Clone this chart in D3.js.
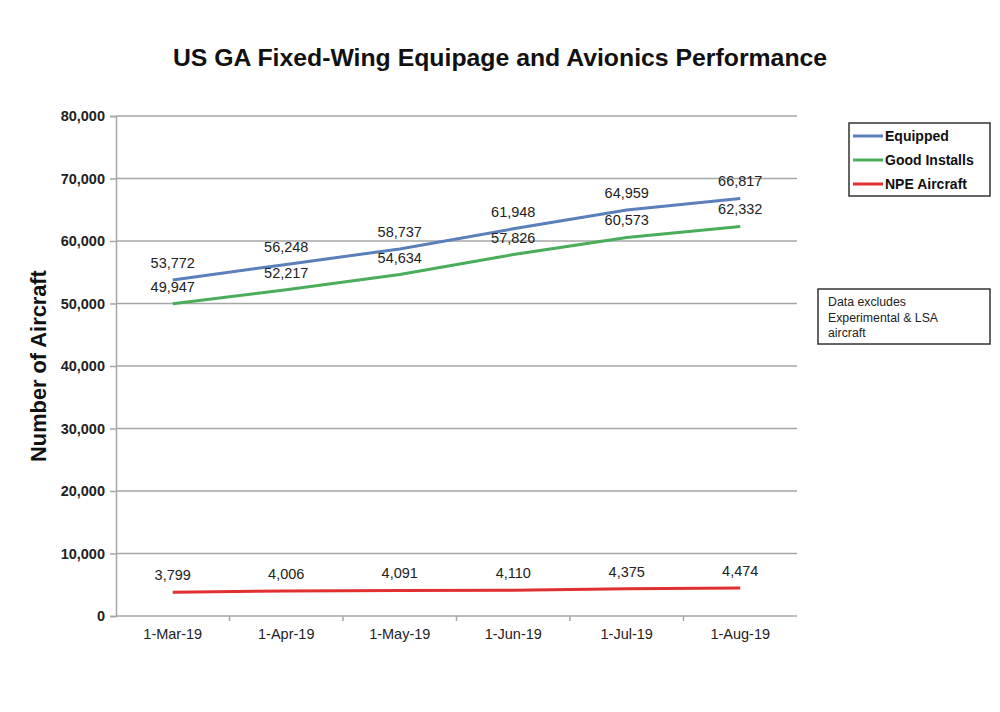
<!DOCTYPE html>
<html lang="en">
  <head>
    <meta charset="UTF-8" />
    <script src="https://d3js.org/d3.v7.min.js"></script>
    <title>US GA Fixed-Wing Equipage</title>
    <style>
      body { margin: 0; background: #fff; font-family: 'Liberation Sans', Arial, sans-serif; }
      .grid line { stroke: #a6a6a6; stroke-width: 1.5; }
      .axis path, .axis line { stroke: #a6a6a6; stroke-width: 1.5; }
      .axis text { fill: #222; font-size: 14.5px; }
      .y.axis text { font-weight: bold; }
      .lbl { fill: #222; font-size: 14.5px; text-anchor: middle; }
    </style>
  </head>
  <body>
    <script>
      const dates = ['1-Mar-19', '1-Apr-19', '1-May-19', '1-Jun-19', '1-Jul-19', '1-Aug-19']
      const equipped = [53772, 56248, 58737, 61948, 64959, 66817]
      const goodInstalls = [49947, 52217, 54634, 57826, 60573, 62332]
      const npeAircraft = [3799, 4006, 4091, 4110, 4375, 4474]
      const yTicks = [0, 10000, 20000, 30000, 40000, 50000, 60000, 70000, 80000]

      const series = [
        { name: 'Equipped', values: equipped, color: '#5a7fba' },
        { name: 'Good Installs', values: goodInstalls, color: '#4aad5b' },
        { name: 'NPE Aircraft', values: npeAircraft, color: '#e0302f' }
      ]

      const width = 1000
      const height = 712
      const plotLeft = 116, plotRight = 797, plotTop = 116, plotBottom = 616

      const svg = d3.select('body')
        .append('svg')
        .attr('width', width)
        .attr('height', height)

      const x = d3.scaleBand()
        .domain(dates)
        .range([plotLeft, plotRight])

      const y = d3.scaleLinear()
        .domain([0, 80000])
        .range([plotBottom, plotTop])

      // gridlines
      svg.append('g')
        .attr('class', 'grid')
        .selectAll('line')
        .data(yTicks.filter(d => d > 0))
        .join('line')
        .attr('x1', plotLeft)
        .attr('x2', plotRight)
        .attr('y1', d => y(d))
        .attr('y2', d => y(d))

      svg.append('g')
        .attr('class', 'y axis')
        .attr('transform', `translate(${plotLeft},0)`)
        .call(d3.axisLeft(y).tickValues(yTicks).tickSize(6).tickPadding(5).tickFormat(d3.format(',')))

      // bottom axis with ticks at category boundaries
      const xAxis = svg.append('g')
        .attr('class', 'x axis')
        .attr('transform', `translate(0,${plotBottom})`)
      xAxis.append('line')
        .attr('x1', plotLeft).attr('x2', plotRight)
      xAxis.selectAll('.bt')
        .data(dates.slice(1))
        .join('line')
        .attr('class', 'bt')
        .attr('x1', d => x(d)).attr('x2', d => x(d))
        .attr('y1', 0).attr('y2', 5)
      xAxis.selectAll('text')
        .data(dates)
        .join('text')
        .attr('x', d => x(d) + x.bandwidth() / 2)
        .attr('y', 23)
        .attr('text-anchor', 'middle')
        .text(d => d)

      const line = d3.line()
        .x((d, i) => x(dates[i]) + x.bandwidth() / 2)
        .y(d => y(d))

      series.forEach(s => {
        svg.append('path')
          .datum(s.values)
          .attr('d', line)
          .attr('fill', 'none')
          .attr('stroke', s.color)
          .attr('stroke-width', 3)

        svg.append('g')
          .selectAll('text')
          .data(s.values)
          .join('text')
          .attr('class', 'lbl')
          .attr('x', (d, i) => x(dates[i]) + x.bandwidth() / 2)
          .attr('y', d => y(d) - 12)
          .text(d => d3.format(',')(d))
      })

      // titles
      svg.append('text')
        .attr('x', 500)
        .attr('y', 66)
        .attr('text-anchor', 'middle')
        .style('font-size', '24.8px')
        .style('font-weight', 'bold')
        .style('fill', '#111')
        .text('US GA Fixed-Wing Equipage and Avionics Performance')

      svg.append('text')
        .attr('transform', 'translate(46,366) rotate(-90)')
        .attr('text-anchor', 'middle')
        .style('font-size', '21.8px')
        .style('font-weight', 'bold')
        .style('fill', '#111')
        .text('Number of Aircraft')

      // legend
      const legend = svg.append('g')
      legend.append('rect')
        .attr('x', 849).attr('y', 123).attr('width', 141).attr('height', 73)
        .attr('fill', '#fff').attr('stroke', '#333').attr('stroke-width', 1.5)
      series.forEach((s, i) => {
        const ly = 136 + i * 24
        legend.append('line')
          .attr('x1', 853).attr('x2', 883).attr('y1', ly).attr('y2', ly)
          .attr('stroke', s.color).attr('stroke-width', 3)
        legend.append('text')
          .attr('x', 885).attr('y', ly + 5)
          .style('font-size', '14px').style('font-weight', 'bold').style('fill', '#111')
          .text(s.name)
      })

      // note box
      const note = svg.append('g')
      note.append('rect')
        .attr('x', 818).attr('y', 289).attr('width', 172).attr('height', 55)
        .attr('fill', '#fff').attr('stroke', '#333').attr('stroke-width', 1.5)
      const noteLines = ['Data excludes', 'Experimental & LSA', 'aircraft']
      note.selectAll('text')
        .data(noteLines)
        .join('text')
        .attr('x', 828)
        .attr('y', (d, i) => 306 + i * 15.5)
        .style('font-size', '12.3px')
        .style('fill', '#222')
        .text(d => d)
    </script>
  </body>
</html>
